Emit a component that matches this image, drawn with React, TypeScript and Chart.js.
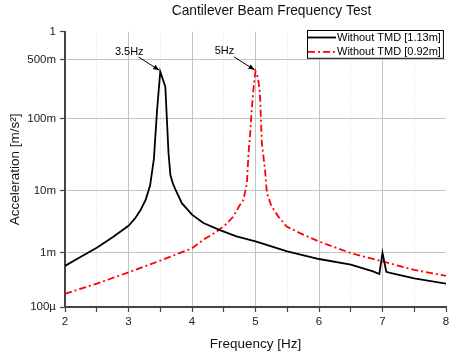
import React, { useEffect, useRef } from 'react';
import { Chart, registerables, LogarithmicScale } from 'chart.js';

Chart.register(...registerables);

// ---------- data ----------
const blackFreq = [2.0, 2.25, 2.5, 2.75, 3.0, 3.1, 3.19, 3.27, 3.34, 3.4, 3.45, 3.5, 3.58, 3.63, 3.66, 3.7, 3.74, 3.84, 4.0, 4.18, 4.45, 4.7, 5.0, 5.5, 6.0, 6.5, 6.85, 6.95, 7.0, 7.06, 7.12, 7.5, 8.0];
const blackAccel = [0.00059, 0.000855, 0.00122, 0.00184, 0.00285, 0.0037, 0.0051, 0.0073, 0.012, 0.029, 0.128, 0.367, 0.246, 0.035, 0.017, 0.0128, 0.0104, 0.0065, 0.0043, 0.00315, 0.0024, 0.0019, 0.00157, 0.00106, 0.00078, 0.00062, 0.00047, 0.00042, 0.001, 0.00046, 0.00044, 0.00035, 0.00028];

const redFreq = [2.0, 2.5, 3.0, 3.5, 4.0, 4.18, 4.39, 4.55, 4.65, 4.75, 4.81, 4.865, 4.89, 4.92, 4.94, 4.97, 5.0, 5.04, 5.07, 5.1, 5.15, 5.18, 5.25, 5.36, 5.49, 5.7, 6.0, 6.5, 7.0, 7.5, 8.0];
const redAccel = [0.00018, 0.00028, 0.00045, 0.00073, 0.0012, 0.00167, 0.00229, 0.0031, 0.004, 0.006, 0.0073, 0.013, 0.035, 0.07, 0.128, 0.24, 0.37, 0.31, 0.206, 0.0476, 0.0203, 0.0092, 0.0059, 0.004, 0.00277, 0.00216, 0.00156, 0.00099, 0.000705, 0.0005, 0.00039];

const chartTitle = 'Cantilever Beam Frequency Test';
const seriesLabels = ['Without TMD [1.13m]', 'Without TMD [0.92m]'];
const yTickValues = [0.0001, 0.001, 0.01, 0.1, 0.5, 1];
const yTickLabels = ['100µ', '1m', '10m', '100m', '500m', '1'];
const peakFreqs = [3.5, 5];
const peakAccels = [0.367, 0.37];
const peakLabels = ['3.5Hz', '5Hz'];

const FONT = '"Liberation Sans", Arial, Helvetica, sans-serif';
const WARP = 4.5;
const warp = (v: number) => Math.log(WARP - Math.log10(v));

class WarpedLogScale extends (LogarithmicScale as any) {
  static id = 'warpedLog';
  static defaults = (LogarithmicScale as any).defaults;
  getPixelForValue(value: number) {
    if (value === undefined || value === null || isNaN(value) || value <= 0) return NaN;
    const a = warp(this.min), b = warp(this.max);
    return this.getPixelForDecimal((a - warp(value)) / (a - b));
  }
  getValueForPixel(pixel: number) {
    const d = this.getDecimalForPixel(pixel);
    const a = warp(this.min), b = warp(this.max);
    return Math.pow(10, WARP - Math.exp(a - d * (a - b)));
  }
}
Chart.register(WarpedLogScale as any);

const offsetTitle = {
  id: 'offsetTitle',
  afterDraw(chart: any) {
    const { ctx } = chart;
    ctx.save();
    ctx.font = `13.75px ${FONT}`;
    ctx.fillStyle = '#111';
    ctx.textAlign = 'center';
    ctx.textBaseline = 'middle';
    ctx.fillText(chartTitle, 271.5, 11);
    ctx.restore();
  },
};

const boxLegend = {
  id: 'boxLegend',
  afterDraw(chart: any) {
    const { ctx, chartArea } = chart;
    const items = chart.data.datasets;
    ctx.save();
    ctx.font = `11px ${FONT}`;
    const textW = Math.max(...items.map((d: any) => ctx.measureText(d.label).width));
    const lineLen = 28;
    const w = 30 + textW + 2;
    const rowH = 14.4;
    const h = rowH * items.length - 1;
    const right = chartArea.right - 3.5;
    const left = Math.round(right - w);
    const top = Math.round(chartArea.top - 1.5);
    ctx.fillStyle = '#fff';
    ctx.fillRect(left, top, w, h);
    ctx.strokeStyle = '#000';
    ctx.lineWidth = 1;
    ctx.strokeRect(left + 0.5, top + 0.5, w, h);
    items.forEach((d: any, i: number) => {
      const cy = top + 7.5 + i * rowH;
      ctx.beginPath();
      ctx.setLineDash(d.borderDash || []);
      ctx.strokeStyle = d.borderColor;
      ctx.lineWidth = d.borderWidth;
      ctx.moveTo(left + 1, cy);
      ctx.lineTo(left + 1 + lineLen, cy);
      ctx.stroke();
      ctx.setLineDash([]);
      ctx.fillStyle = '#000';
      ctx.textBaseline = 'middle';
      ctx.textAlign = 'left';
      ctx.fillText(d.label, left + 30, cy + 0.5);
    });
    ctx.restore();
  },
};

const peakNotes = {
  id: 'peakNotes',
  afterDatasetsDraw(chart: any) {
    const { ctx } = chart;
    const xs = chart.scales.x;
    const ys = chart.scales.y;
    ctx.save();
    ctx.font = `11px ${FONT}`;
    ctx.fillStyle = '#000';
    ctx.strokeStyle = '#000';
    ctx.textAlign = 'center';
    ctx.textBaseline = 'middle';
    peakFreqs.forEach((f, i) => {
      const px = xs.getPixelForValue(f);
      const py = ys.getPixelForValue(peakAccels[i]);
      const tipX = px - 1, tipY = py - 1.5;
      const tailX = px - 21.5, tailY = py - 14.5;
      ctx.lineWidth = 1;
      ctx.beginPath();
      ctx.moveTo(tailX, tailY);
      ctx.lineTo(tipX, tipY);
      ctx.stroke();
      const ang = Math.atan2(tipY - tailY, tipX - tailX);
      const hl = 6, hw = 2.5;
      const c = Math.cos(ang), s = Math.sin(ang);
      ctx.beginPath();
      ctx.moveTo(tipX, tipY);
      ctx.lineTo(tipX - hl * c + hw * s, tipY - hl * s - hw * c);
      ctx.lineTo(tipX - hl * c - hw * s, tipY - hl * s + hw * c);
      ctx.closePath();
      ctx.fill();
      ctx.fillText(peakLabels[i], px - 31, py - 20);
    });
    ctx.restore();
  },
};

export default function App() {
  const ref = useRef<HTMLCanvasElement | null>(null);
  useEffect(() => {
    if (!ref.current) return;
    Chart.defaults.font.family = FONT;
    const transparent = 'rgba(0,0,0,0)';
    const chart = new Chart(ref.current, {
      type: 'line',
      data: {
        datasets: [
          {
            label: seriesLabels[0],
            data: blackFreq.map((f, i) => ({ x: f, y: blackAccel[i] })),
            borderColor: '#000',
            borderWidth: 1.8,
            pointRadius: 0,
            tension: 0,
            fill: false,
          },
          {
            label: seriesLabels[1],
            data: redFreq.map((f, i) => ({ x: f, y: redAccel[i] })),
            borderColor: '#ff0000',
            borderWidth: 1.8,
            borderDash: [7, 3, 2, 3],
            pointRadius: 0,
            tension: 0,
            fill: false,
          },
        ],
      },
      options: {
        responsive: false,
        animation: false,
        devicePixelRatio: 1,
        layout: { padding: { left: 0, right: 0, top: 31.7, bottom: 0 } },
        plugins: {
          legend: { display: false },
          tooltip: { enabled: false },
          title: { display: false },
        },
        scales: {
          x: {
            type: 'linear',
            min: 2,
            max: 8,
            ticks: {
              stepSize: 0.5,
              autoSkip: false,
              maxRotation: 0,
              padding: 3,
              color: '#222',
              font: { size: 11.5, family: FONT },
              callback: (v: any) => (Number.isInteger(v) ? String(v) : ''),
            },
            grid: {
              color: (c: any) => {
                const v = c.tick ? c.tick.value : null;
                if (v === 2 || v === 8) return transparent;
                return Number.isInteger(v) ? '#c4c4c4' : '#dadada';
              },
              lineWidth: 1,
              tickLength: 5,
              tickColor: '#444',
              tickWidth: 1.2,
            },
            border: {
              color: '#444',
              width: 2,
              dash: (c: any) => (c.tick && !Number.isInteger(c.tick.value) ? [1, 2] : []),
            },
            title: {
              display: true,
              text: 'Frequency [Hz]',
              color: '#111',
              font: { size: 13.5, family: FONT },
              padding: { top: 4, bottom: 5 },
            },
            afterFit: (s: any) => { s.height = 50; s.paddingRight = 3; s.paddingLeft = 0; },
          },
          y: {
            type: 'warpedLog' as any,
            min: 0.0001,
            max: 1,
            afterBuildTicks: (s: any) => { s.ticks = yTickValues.map((v) => ({ value: v })); },
            ticks: {
              padding: 4,
              color: '#222',
              font: { size: 11.5, family: FONT },
              callback: (_v: any, i: number) => yTickLabels[i] ?? '',
            },
            grid: {
              color: (c: any) => {
                const v = c.tick ? c.tick.value : null;
                if (v === 1 || v === 0.0001) return transparent;
                return '#c4c4c4';
              },
              lineWidth: 1,
              tickLength: 5,
              tickColor: '#444',
              tickWidth: 1.2,
            },
            border: { color: '#444', width: 2 },
            title: {
              display: true,
              text: 'Acceleration [m/s²]',
              color: '#111',
              font: { size: 13.5, family: FONT },
              padding: { top: 7, bottom: 0 },
            },
            afterFit: (s: any) => { s.width = 65; },
          } as any,
        },
      },
      plugins: [peakNotes, boxLegend, offsetTitle],
    } as any);
    return () => chart.destroy();
  }, []);
  return (
    <div style={{ position: 'fixed', left: 0, top: 0, width: 449, height: 357, background: '#fff' }}>
      <canvas ref={ref} width={449} height={357} style={{ width: 449, height: 357, display: 'block' }} />
    </div>
  );
}
